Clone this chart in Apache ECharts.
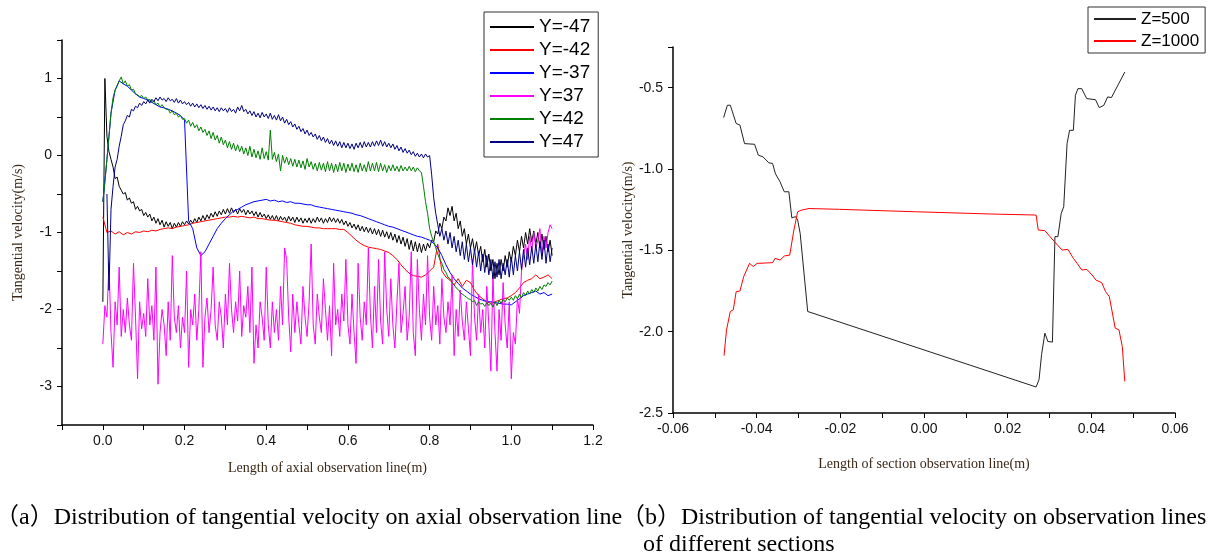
<!DOCTYPE html>
<html>
<head>
<meta charset="utf-8">
<script src="https://cdn.jsdelivr.net/npm/echarts@6/dist/echarts.min.js"></script>
<style>
html,body{margin:0;padding:0;background:#fff;}
#chart{width:1211px;height:556px;}
</style>
</head>
<body>
<div id="chart"></div>
<script>
// ---------- (a) axial observation line ----------
const axialFineStep = 0.005;   // spacing of the noisy series (m)
const axialCoarseStep = 0.01;  // spacing of the smoother series (m)
const axialNames = ['Y=-47', 'Y=-42', 'Y=-37', 'Y=37', 'Y=42', 'Y=47'];

// Y=-47 (step 0.005, x = 0 ... 1.1)
const yMinus47 = [
  -1.9, 1.0, 0.25, 0.05, -0.05, -0.15, -0.3, -0.28, -0.4, -0.45,
  -0.5, -0.48, -0.58, -0.55, -0.62, -0.6, -0.7, -0.66, -0.72, -0.7,
  -0.78, -0.74, -0.8, -0.76, -0.85, -0.8, -0.88, -0.82, -0.9, -0.84,
  -0.93, -0.86, -0.92, -0.87, -0.95, -0.88, -0.93, -0.87, -0.92, -0.86,
  -0.9, -0.85, -0.89, -0.84, -0.88, -0.82, -0.87, -0.8, -0.85, -0.78,
  -0.84, -0.77, -0.82, -0.75, -0.8, -0.73, -0.79, -0.72, -0.77, -0.7,
  -0.76, -0.69, -0.75, -0.68, -0.74, -0.7, -0.76, -0.69, -0.74, -0.7,
  -0.77, -0.71, -0.76, -0.72, -0.78, -0.73, -0.8, -0.74, -0.8, -0.76,
  -0.82, -0.77, -0.83, -0.78, -0.84, -0.78, -0.85, -0.79, -0.84, -0.8,
  -0.86, -0.79, -0.85, -0.8, -0.87, -0.8, -0.86, -0.81, -0.88, -0.82,
  -0.87, -0.81, -0.88, -0.82, -0.87, -0.8, -0.86, -0.81, -0.88, -0.82,
  -0.87, -0.8, -0.86, -0.81, -0.87, -0.82, -0.88, -0.83, -0.9, -0.85,
  -0.92, -0.87, -0.94, -0.89, -0.96, -0.9, -0.98, -0.92, -0.99, -0.93,
  -1.0, -0.94, -1.02, -0.95, -1.03, -0.96, -1.05, -0.97, -1.06, -0.99,
  -1.08, -1.0, -1.1, -1.02, -1.13, -1.04, -1.15, -1.06, -1.18, -1.08,
  -1.22, -1.1, -1.24, -1.12, -1.25, -1.14, -1.26, -1.15, -1.24, -1.14,
  -1.2, -1.1, -1.12, -0.98, -1.02, -0.88, -0.95, -0.8, -0.85, -0.68,
  -0.78, -0.66, -0.85, -0.75, -0.95, -0.85, -1.05, -0.95, -1.15, -1.02,
  -1.2, -1.08, -1.25, -1.12, -1.3, -1.18, -1.38, -1.22, -1.45, -1.28,
  -1.5, -1.35, -1.6, -1.4, -1.55, -1.35, -1.5, -1.3, -1.45, -1.25,
  -1.38, -1.18, -1.3, -1.1, -1.25, -1.05, -1.2, -1.0, -1.15, -0.95,
  -1.12, -0.98, -1.15, -1.0, -1.2, -1.02, -1.22, -1.05, -1.25, -1.1,
  -1.3
];

// Y=-42 (step 0.01)
const yMinus42 = [
  -0.8, -1.0, -0.98, -1.02, -0.99, -1.03, -1.0, -1.02, -0.99, -1.0,
  -0.98, -0.99, -0.97, -0.98, -0.96, -0.95, -0.94, -0.95, -0.93, -0.92,
  -0.91, -0.9, -0.88, -0.87, -0.86, -0.85, -0.84, -0.83, -0.82, -0.81,
  -0.8, -0.8, -0.79, -0.8, -0.79, -0.8, -0.81, -0.8, -0.82, -0.82,
  -0.83, -0.84, -0.84, -0.85, -0.86, -0.87, -0.88, -0.9, -0.91, -0.92,
  -0.92, -0.93, -0.94, -0.94, -0.95, -0.95, -0.95, -0.95, -0.96, -0.96,
  -1.0, -1.05, -1.1, -1.14, -1.17, -1.19, -1.2, -1.21, -1.22, -1.24,
  -1.26, -1.3, -1.35, -1.42, -1.48, -1.53, -1.56, -1.57, -1.58, -1.55,
  -1.5, -1.45, -1.15, -1.5, -1.58, -1.62, -1.68, -1.6, -1.7, -1.62,
  -1.65, -1.75, -1.82, -1.86, -1.9, -1.92, -1.9, -1.88, -1.86, -1.85,
  -1.82, -1.78, -1.72, -1.65, -1.62, -1.6, -1.55, -1.6, -1.58, -1.55,
  -1.6
];

// Y=-37 (step 0.01)
const yMinus37 = [
  -0.6, -0.05, 0.55, 0.85, 0.97, 0.93, 0.9, 0.85, 0.8, 0.76,
  0.74, 0.72, 0.69, 0.66, 0.63, 0.62, 0.6, 0.58, 0.55, 0.52,
  0.46, -0.85, -0.95, -1.2, -1.3, -1.25, -1.15, -1.05, -0.95, -0.88,
  -0.82, -0.77, -0.72, -0.7, -0.67, -0.64, -0.62, -0.6, -0.59, -0.58,
  -0.57, -0.59, -0.58, -0.6, -0.59, -0.61, -0.6, -0.62, -0.62, -0.63,
  -0.64, -0.64, -0.66, -0.67, -0.68, -0.69, -0.7, -0.71, -0.72, -0.73,
  -0.74, -0.75, -0.77, -0.78, -0.8, -0.82, -0.84, -0.86, -0.88, -0.9,
  -0.92, -0.93, -0.95, -0.97, -0.99, -1.01, -1.03, -1.05, -1.06, -1.08,
  -1.1, -1.14, -1.2, -1.3, -1.42, -1.52, -1.6, -1.66, -1.72, -1.76,
  -1.8, -1.83, -1.86, -1.88, -1.9, -1.9, -1.91, -1.92, -1.93, -1.93,
  -1.94, -1.9, -1.86, -1.82, -1.8, -1.78, -1.76, -1.8, -1.78, -1.82,
  -1.8
];

// Y=37 (step 0.005)
const yPlus37 = [
  -2.45, -1.95, -2.1, -1.4, -2.3, -2.75, -1.9, -2.2, -1.45, -2.35,
  -2.0, -2.3, -1.85, -2.2, -2.4, -1.4, -2.1, -2.9, -1.9, -2.25,
  -2.05, -2.35, -1.6, -2.2, -1.95, -2.4, -1.45, -2.97, -2.3, -2.0,
  -2.2, -2.6, -1.9, -2.4, -1.3, -2.1, -2.3, -1.95, -2.5, -2.1,
  -2.3, -1.5, -2.75, -2.0, -2.2, -1.8, -2.4, -2.0, -1.25, -2.75,
  -2.1, -1.85, -2.3, -2.0, -1.45, -2.2, -2.4, -1.9, -2.1, -2.5,
  -1.8, -2.2, -1.4, -2.0, -2.3, -1.9, -2.15, -1.5, -2.35, -1.95,
  -2.1, -1.7, -2.3, -1.45, -2.7, -2.2, -2.5, -1.9, -2.1, -2.4,
  -1.45, -2.2, -2.5, -1.9, -2.3, -2.0, -2.4, -1.7, -2.2, -1.2,
  -1.35, -2.1, -2.55, -1.8, -2.3, -1.9, -2.2, -2.45, -1.7, -2.1,
  -2.35, -1.9, -1.15, -2.2, -2.45, -1.8, -2.1, -2.3, -1.6, -2.0,
  -2.4, -1.95, -2.6, -1.4, -2.2, -2.0, -2.35, -1.8, -2.15, -1.35,
  -2.2, -2.45, -1.8, -2.3, -2.7, -1.4, -2.1, -2.4, -1.9, -2.2,
  -1.2, -2.05, -2.5, -1.7, -2.3, -1.35, -2.15, -2.45, -1.25, -2.0,
  -2.35, -1.6, -2.2, -2.5, -1.9, -1.4, -2.3, -2.05, -1.7, -2.4,
  -2.1, -1.25, -2.3, -2.6, -1.35, -2.0, -2.4, -1.8, -2.2, -1.3,
  -2.1, -2.4, -1.7, -2.2, -1.95, -2.45, -1.6, -2.1, -2.3, -1.9,
  -2.2, -1.55, -2.6, -2.0, -2.35, -1.75, -2.15, -2.4, -1.9, -2.25,
  -2.6, -1.35, -2.1, -2.4, -1.8, -2.3, -2.0, -2.5, -1.7, -2.2,
  -2.8, -1.55, -2.3, -2.8, -2.0, -2.4, -1.65, -2.2, -2.5, -1.9,
  -2.9, -2.3, -2.45, -1.85, -2.05, -1.5, -1.3, -1.15, -1.35, -1.05,
  -1.25, -1.0, -1.2, -1.1, -0.95, -1.3, -1.05, -1.2, -1.0, -0.9,
  -0.95
];

// Y=42 (step 0.005)
const yPlus42 = [
  -0.6, -0.35, -0.05, 0.25, 0.55, 0.75, 0.85, 0.9, 0.97, 1.02,
  0.93, 0.97, 0.9, 0.92, 0.85, 0.86, 0.8, 0.79, 0.76, 0.78,
  0.74, 0.76, 0.72, 0.73, 0.69, 0.71, 0.66, 0.68, 0.63, 0.66,
  0.62, 0.6, 0.6, 0.55, 0.58, 0.53, 0.55, 0.5, 0.52, 0.47,
  0.48, 0.42, 0.46, 0.38, 0.43, 0.36, 0.4, 0.32, 0.37, 0.3,
  0.34, 0.26, 0.32, 0.22, 0.3, 0.2, 0.26, 0.16, 0.24, 0.14,
  0.2, 0.1, 0.18, 0.08, 0.16, 0.06, 0.14, 0.05, 0.12, 0.02,
  0.1, 0.0, 0.12, -0.02, 0.08, -0.03, 0.06, -0.05, 0.1, -0.04,
  0.05, -0.06, 0.33, -0.05, 0.04, -0.08, 0.02, -0.2, 0.0, -0.1,
  -0.02, -0.12, -0.04, -0.14, -0.05, -0.15, -0.06, -0.16, -0.07, -0.18,
  -0.04, -0.15, -0.08, -0.18, -0.1, -0.2, -0.09, -0.19, -0.1, -0.21,
  -0.08, -0.2, -0.1, -0.22, -0.11, -0.21, -0.09, -0.2, -0.1, -0.22,
  -0.11, -0.2, -0.1, -0.21, -0.12, -0.22, -0.1, -0.2, -0.12, -0.21,
  -0.08, -0.2, -0.1, -0.2, -0.09, -0.21, -0.1, -0.2, -0.12, -0.22,
  -0.13, -0.2, -0.12, -0.2, -0.14, -0.21, -0.13, -0.2, -0.15, -0.2,
  -0.14, -0.2, -0.15, -0.21, -0.16, -0.2, -0.22, -0.4, -0.6, -0.75,
  -0.95, -1.05, -1.12, -1.2, -1.28, -1.35, -1.4, -1.48, -1.52, -1.58,
  -1.6, -1.65, -1.68, -1.72, -1.74, -1.78, -1.8, -1.82, -1.84, -1.86,
  -1.87, -1.9, -1.88, -1.95, -1.9, -1.93, -1.92, -1.96, -1.91, -1.95,
  -1.92, -1.97, -1.9, -1.95, -1.88, -1.92, -1.87, -1.9, -1.85, -1.88,
  -1.84, -1.88, -1.82, -1.86, -1.8, -1.85, -1.78, -1.82, -1.76, -1.8,
  -1.74, -1.78, -1.72, -1.76, -1.7, -1.74, -1.68, -1.7, -1.65, -1.68,
  -1.63
];

// Y=47 (step 0.005; no data at the first two positions)
const yPlus47 = [
  null, null, -0.5, -1.75, -0.7, -0.4, -0.15, -0.05, 0.12, 0.25,
  0.4, 0.45, 0.52, 0.5, 0.6, 0.58, 0.64, 0.62, 0.68, 0.65,
  0.7, 0.67, 0.72, 0.68, 0.73, 0.7, 0.75, 0.71, 0.76, 0.72,
  0.74, 0.7, 0.75, 0.71, 0.73, 0.69, 0.74, 0.68, 0.72, 0.67,
  0.7, 0.66, 0.69, 0.64, 0.68, 0.63, 0.67, 0.62, 0.66, 0.61,
  0.65, 0.6, 0.64, 0.59, 0.63, 0.58, 0.62, 0.57, 0.62, 0.58,
  0.61, 0.56, 0.62, 0.57, 0.6, 0.55, 0.63, 0.58, 0.65, 0.57,
  0.6, 0.54, 0.58, 0.52, 0.57, 0.5, 0.55, 0.49, 0.56, 0.5,
  0.54, 0.48, 0.55, 0.47, 0.52, 0.46, 0.53, 0.45, 0.5, 0.42,
  0.47, 0.4, 0.44, 0.37, 0.41, 0.34, 0.38, 0.31, 0.35, 0.28,
  0.33, 0.26, 0.3, 0.24, 0.28, 0.21, 0.26, 0.19, 0.24, 0.17,
  0.22, 0.15, 0.2, 0.13, 0.19, 0.12, 0.18, 0.1, 0.17, 0.1,
  0.16, 0.09, 0.15, 0.08, 0.16, 0.1, 0.17, 0.1, 0.18, 0.11,
  0.17, 0.11, 0.18, 0.12, 0.19, 0.13, 0.2, 0.12, 0.18, 0.11,
  0.16, 0.1, 0.15, 0.08, 0.13, 0.06, 0.11, 0.04, 0.09, 0.03,
  0.07, 0.01, 0.05, -0.01, 0.03, -0.02, 0.02, -0.03, 0.02, -0.02,
  0.0, -0.25, -0.55, -0.75, -0.9, -1.05, -0.95, -1.1, -0.98, -1.15,
  -1.0, -1.2, -1.05, -1.25, -1.1, -1.3, -1.12, -1.35, -1.15, -1.38,
  -1.2, -1.42, -1.22, -1.45, -1.25, -1.5, -1.28, -1.52, -1.3, -1.55,
  -1.35, -1.6, -1.38, -1.58, -1.35, -1.6, -1.4, -1.55, -1.35, -1.58,
  -1.32, -1.55, -1.3, -1.5, -1.25, -1.48, -1.22, -1.45, -1.2, -1.42,
  -1.18, -1.4, -1.15, -1.38, -1.12, -1.35, -1.1, -1.4, -1.15, -1.38,
  -1.2
];

// ---------- (b) section observation lines ----------
const sectionNames = ['Z=500', 'Z=1000'];
const z500X = [-0.0479, -0.047, -0.0463, -0.0449, -0.044, -0.0429, -0.0405, -0.0396, -0.0385, -0.0371,
  -0.0362, -0.0355, -0.0344, -0.0334, -0.0323, -0.0316, -0.0307, -0.0302, -0.0296, -0.0278,
  0.0268, 0.0275, 0.0281, 0.0289, 0.0296, 0.0307, 0.0313, 0.032, 0.0328, 0.0334,
  0.0342, 0.0348, 0.0357, 0.0362, 0.0368, 0.0377, 0.0389, 0.041, 0.0419, 0.043,
  0.0439, 0.0448, 0.048];
const z500Y = [-0.684, -0.608, -0.608, -0.72, -0.73, -0.844, -0.848, -0.915, -0.925, -0.962,
  -0.966, -1.03, -1.079, -1.14, -1.14, -1.30, -1.293, -1.314, -1.396, -1.876,
  -2.34, -2.295, -2.142, -2.009, -2.06, -2.064, -1.416, -1.416, -1.273, -1.232,
  -0.844, -0.762, -0.762, -0.547, -0.506, -0.506, -0.567, -0.574, -0.623, -0.608,
  -0.557, -0.561, -0.404];
const z1000X = [-0.0478, -0.0472, -0.0463, -0.0456, -0.0449, -0.044, -0.0431, -0.0417, -0.0408, -0.0399,
  -0.0362, -0.0356, -0.0344, -0.0334, -0.0321, -0.0311, -0.0302, -0.0293, -0.0275, -0.0202,
  -0.0018, 0.0165, 0.0268, 0.0273, 0.0289, 0.0298, 0.0312, 0.033, 0.0344, 0.0357,
  0.0366, 0.0377, 0.0389, 0.0402, 0.0411, 0.0425, 0.0434, 0.0443, 0.0457, 0.0466,
  0.0474, 0.048];
const z1000Y = [-2.148, -1.989, -1.876, -1.866, -1.754, -1.75, -1.662, -1.58, -1.60, -1.58,
  -1.576, -1.549, -1.56, -1.535, -1.529, -1.375, -1.263, -1.253, -1.243, -1.248,
  -1.263, -1.277, -1.283, -1.375, -1.379, -1.406, -1.447, -1.498, -1.494, -1.549,
  -1.58, -1.621, -1.617, -1.652, -1.683, -1.699, -1.754, -1.784, -1.978, -1.989,
  -2.091, -2.306];

// ---------- build ----------
function gridPairs(vals, step) {
  const out = [];
  vals.forEach((v, i) => { if (v !== null) out.push([+(i * step).toFixed(4), v]); });
  return out;
}
function zipPairs(xs, ys) { return xs.map((x, i) => [x, ys[i]]); }

const sans = '"Liberation Sans", Arial, sans-serif';
const serif = '"Liberation Serif", "Times New Roman", serif';
const cjkSerif = '"Liberation Serif", "Noto Sans CJK SC", serif';
const titleColor = '#3a2816';

function makeLine(name, data, color, xi) {
  return {
    type: 'line', name: name, data: data, xAxisIndex: xi, yAxisIndex: xi,
    symbol: 'none', showSymbol: false, animation: false,
    lineStyle: { color: color, width: 1 }, itemStyle: { color: color },
    emphasis: { disabled: true }
  };
}
const axisCommon = {
  axisLine: { show: true, onZero: false, lineStyle: { color: '#000', width: 1.5 } },
  axisTick: { show: true, inside: false, length: 5, lineStyle: { color: '#000', width: 1 } },
  splitLine: { show: false },
  nameLocation: 'middle',
  nameTextStyle: { fontFamily: serif, fontSize: 14, color: titleColor }
};

const chart = echarts.init(document.getElementById('chart'), null, { renderer: 'canvas' });
chart.setOption({
  backgroundColor: '#fff',
  animation: false,
  grid: [
    { left: 62, top: 40, width: 531, height: 385 },
    { left: 673, top: 47, width: 502, height: 366 }
  ],
  xAxis: [
    Object.assign({}, axisCommon, {
      gridIndex: 0, type: 'value', min: -0.1, max: 1.2, interval: 0.1,
      name: 'Length of axial observation line(m)', nameGap: 36,
      axisLabel: { fontFamily: sans, fontSize: 14, color: '#111', margin: 9,
        formatter: v => { const k = Math.round(v * 10); return (k >= 0 && k % 2 === 0) ? (k / 10).toFixed(1) : ''; } }
    }),
    Object.assign({}, axisCommon, {
      gridIndex: 1, type: 'value', min: -0.06, max: 0.06, interval: 0.01,
      name: 'Length of section observation line(m)', nameGap: 44,
      axisLabel: { fontFamily: sans, fontSize: 14, color: '#111', margin: 9,
        formatter: v => { const k = Math.round(v * 100); return (k % 2 === 0) ? (k === 0 ? '0.00' : (k / 100).toFixed(2)) : ''; } }
    })
  ],
  yAxis: [
    Object.assign({}, axisCommon, {
      gridIndex: 0, type: 'value', min: -3.5, max: 1.5, interval: 0.5,
      name: 'Tangential velocity(m/s)', nameGap: 37, nameRotate: 90,
      axisLabel: { fontFamily: sans, fontSize: 14, color: '#111', margin: 10,
        formatter: v => { const k = Math.round(v * 2); return (k % 2 === 0) ? String(k / 2) : ''; } }
    }),
    Object.assign({}, axisCommon, {
      gridIndex: 1, type: 'value', min: -2.5, max: -0.25, interval: 0.5,
      name: 'Tangential velocity(m/s)', nameGap: 38, nameRotate: 90,
      axisLabel: { fontFamily: sans, fontSize: 14, color: '#111', margin: 10,
        formatter: v => { const k = v * 2; return Math.abs(k - Math.round(k)) < 1e-6 ? v.toFixed(1) : ''; } }
    })
  ],
  legend: [
    {
      data: axialNames, orient: 'vertical', left: 484, top: 12,
      borderColor: '#333', borderWidth: 1, padding: [5, 8, 5, 6], itemGap: 3,
      icon: 'rect', itemWidth: 44, itemHeight: 2, selectedMode: false,
      textStyle: { fontFamily: sans, fontSize: 19, color: '#000', lineHeight: 20 }
    },
    {
      data: sectionNames, orient: 'vertical', left: 1088, top: 7,
      borderColor: '#333', borderWidth: 1, padding: [3, 6, 3, 6], itemGap: 4,
      icon: 'rect', itemWidth: 42, itemHeight: 2, selectedMode: false,
      textStyle: { fontFamily: sans, fontSize: 17, color: '#000', lineHeight: 18 }
    }
  ],
  series: [
    makeLine(axialNames[0], gridPairs(yMinus47, axialFineStep), '#000000', 0),
    makeLine(axialNames[1], gridPairs(yMinus42, axialCoarseStep), '#ff0000', 0),
    makeLine(axialNames[2], gridPairs(yMinus37, axialCoarseStep), '#0000ff', 0),
    makeLine(axialNames[3], gridPairs(yPlus37, axialFineStep), '#ff00ff', 0),
    makeLine(axialNames[4], gridPairs(yPlus42, axialFineStep), '#008000', 0),
    makeLine(axialNames[5], gridPairs(yPlus47, axialFineStep), '#000080', 0),
    makeLine(sectionNames[0], zipPairs(z500X, z500Y), '#222222', 1),
    makeLine(sectionNames[1], zipPairs(z1000X, z1000Y), '#ff0000', 1)
  ],
  graphic: [
    { type: 'text', x: -5, y: 506, silent: true,
      style: { text: '（a）Distribution of tangential velocity on axial observation line', font: '24px ' + cjkSerif, fill: '#000' } },
    { type: 'text', x: 621, y: 506, silent: true,
      style: { text: '（b）Distribution of tangential velocity on observation lines', font: '24px ' + cjkSerif, fill: '#000' } },
    { type: 'text', x: 643, y: 533, silent: true,
      style: { text: 'of different sections', font: '24px ' + cjkSerif, fill: '#000' } }
  ]
});
</script>
</body>
</html>
